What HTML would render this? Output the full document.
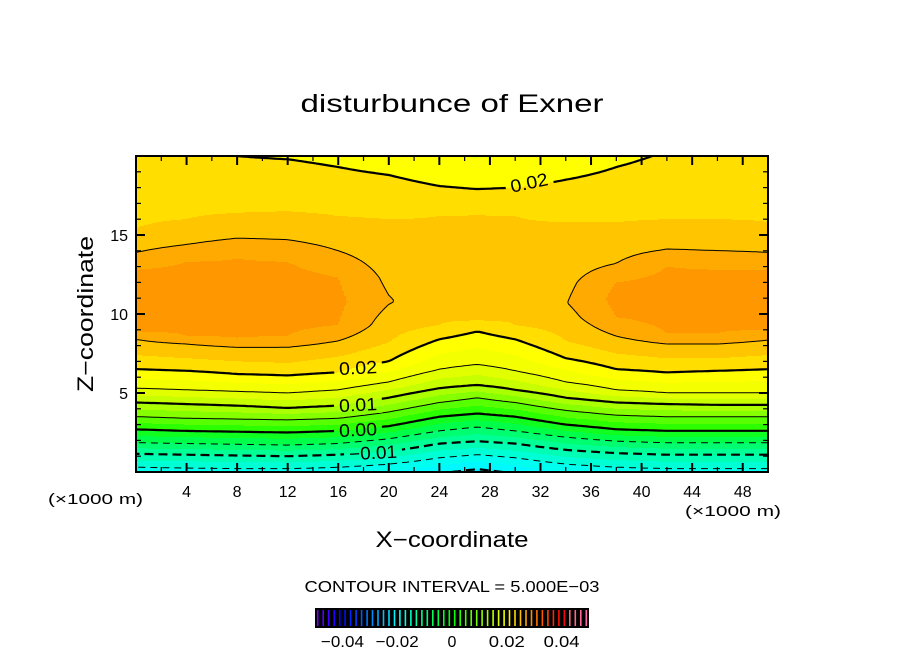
<!DOCTYPE html>
<html><head><meta charset="utf-8"><style>
html,body{margin:0;padding:0;background:#fff;}
svg{display:block;font-family:"Liberation Sans",sans-serif;}
</style></head><body>
<svg id="chart" width="904" height="654" viewBox="0 0 904 654" xmlns="http://www.w3.org/2000/svg">
<text x="452" y="112" text-anchor="middle" font-size="25" textLength="303" lengthAdjust="spacingAndGlyphs">disturbunce of Exner</text>
<g id="fills" shape-rendering="crispEdges"></g>
<defs><mask id="lblmask"><rect x="0" y="0" width="904" height="654" fill="#fff"/><g id="maskholes"></g></mask></defs>
<g id="lines" mask="url(#lblmask)" fill="none" stroke="#000"></g>
<g id="labels" font-size="18"></g>
<rect x="136" y="156" width="632" height="316" fill="none" stroke="#000" stroke-width="2"/>
<g id="ticks" stroke="#000"></g>
<g id="ticklabels" font-size="16"></g>
<text x="48" y="504" font-size="15" textLength="95" lengthAdjust="spacingAndGlyphs">(×1000 m)</text>
<text x="685" y="516" font-size="15" textLength="96" lengthAdjust="spacingAndGlyphs">(×1000 m)</text>
<text x="452" y="547" text-anchor="middle" font-size="22" textLength="153" lengthAdjust="spacingAndGlyphs">X−coordinate</text>
<text transform="translate(93,314) rotate(-90)" text-anchor="middle" font-size="22" textLength="156" lengthAdjust="spacingAndGlyphs">Z−coordinate</text>
<text x="452" y="592" text-anchor="middle" font-size="16" textLength="295" lengthAdjust="spacingAndGlyphs">CONTOUR INTERVAL = 5.000E−03</text>
<g id="colorbar"></g>
<g id="cblabels" font-size="16" text-anchor="middle"></g>
</svg>
<script>
// ---- data ----
const colX = [0,4,8,12,16,20,24,27,30,34,38,42,46,50];
const bottomVals = [-0.0168,-0.0168,-0.017,-0.017,-0.0168,-0.0175,-0.0195,-0.021,-0.0195,-0.0175,-0.017,-0.017,-0.017,-0.017];
const lowLevels = [-0.015,-0.01,-0.005,0,0.005,0.01,0.015,0.02];
const lowZ = [
 [0.3,0.25,0.2,0.2,0.3,0.5,0.9,1.1,0.9,0.5,0.3,0.2,0.2,0.2],
 [1.15,1.1,1.05,1.0,1.1,1.3,1.8,1.95,1.8,1.4,1.2,1.1,1.1,1.1],
 [1.85,1.8,1.75,1.7,1.8,2.1,2.6,2.85,2.6,2.2,1.95,1.85,1.85,1.85],
 [2.7,2.6,2.55,2.5,2.6,2.9,3.5,3.7,3.5,3.0,2.7,2.6,2.6,2.6],
 [3.5,3.4,3.35,3.3,3.4,3.8,4.4,4.7,4.4,3.9,3.6,3.5,3.5,3.5],
 [4.4,4.3,4.2,4.05,4.2,4.7,5.3,5.5,5.2,4.7,4.4,4.3,4.25,4.25],
 [5.3,5.2,5.1,5.0,5.2,5.7,6.5,6.8,6.4,5.7,5.2,5.0,5.0,5.0],
 [6.5,6.4,6.2,6.1,6.3,7.0,8.4,8.9,8.4,7.2,6.5,6.3,6.4,6.5]
];
const upperKnots = [
 [[7.4,.0225],[8.4,.025],[8.9,.0275],[11,.029],[12.8,.0275],[13.9,.025],[15.4,.0225],[19,.0205],[20,.0201]],
 [[7.2,.0225],[8.1,.025],[8.6,.0275],[11,.0295],[13.3,.0275],[14.4,.025],[16,.0225],[20,.0202]],
 [[7.0,.0225],[7.9,.025],[8.5,.0275],[11,.0295],[13.5,.0275],[14.8,.025],[16.4,.0225],[20,.02]],
 [[6.9,.0225],[7.9,.025],[8.6,.0275],[11,.0295],[13.3,.0275],[14.7,.025],[16.5,.0225],[19.8,.02],[20,.0198]],
 [[7.3,.0225],[8.3,.025],[9.3,.0275],[10.8,.028],[12.3,.0275],[14,.025],[16.2,.0225],[19.3,.02],[20,.0195]],
 [[8.2,.0225],[10.8,.0252],[16.0,.0225],[18.8,.02],[20,.0188]],
 [[9.3,.0225],[11.5,.0238],[16.2,.0225],[18.1,.02],[20,.018]],
 [[9.6,.0225],[12,.0235],[16.3,.0225],[17.9,.02],[20,.0172]],
 [[9.3,.0225],[11.5,.0238],[16.2,.0225],[18.0,.02],[20,.0176]],
 [[8.3,.0225],[10.7,.0249],[15.8,.0225],[18.5,.02],[20,.0185]],
 [[7.5,.0225],[8.6,.025],[9.8,.0275],[11,.0282],[12,.0275],[13.2,.025],[15.8,.0225],[19.3,.02],[20,.0195]],
 [[7.2,.0225],[8.1,.025],[8.8,.0275],[10.8,.0292],[13,.0275],[14.1,.025],[16,.0225],[20,.0202]],
 [[7.2,.0225],[8.1,.025],[8.8,.0275],[10.8,.0292],[12.8,.0275],[14,.025],[16,.0225],[20,.0205]],
 [[7.4,.0225],[8.35,.025],[9,.0275],[11,.029],[12.8,.0275],[13.9,.025],[15.8,.0225],[20,.021]]
];
const contourLevels = [-0.02,-0.015,-0.01,-0.005,0,0.005,0.01,0.015,0.02,0.025];
const xTicks = [4,8,12,16,20,24,28,32,36,40,44,48];
const zTicks = [5,10,15];
const cbTicks = [-0.04,-0.02,0,0.02,0.04];
const cbTickLabels = ["−0.04","−0.02","0","0.02","0.04"];
const contourLabelText = ["0.02","0.02","0.01","0.00","−0.01"];
const contourLabelPos = [[529,182,-12],[358,367,-3],[358,404,-3],[358,429,-3],[373,452,-3]];

// ---- scales ----
const X0=136,X1=768,Y0=156,Y1=472;
const sx=x=>X0+x/50*(X1-X0);
const sz=z=>Y1-z/20*(Y1-Y0);
const NS='http://www.w3.org/2000/svg';

const knots = colX.map((_,i)=>{
  const k=[[0,bottomVals[i]]];
  lowLevels.forEach((lv,j)=>k.push([lowZ[j][i],lv]));
  upperKnots[i].forEach(p=>k.push(p));
  k.sort((a,b)=>a[0]-b[0]);
  return k;
});
function colVal(i,z){
  const k=knots[i];
  if(z<=k[0][0]) return k[0][1];
  for(let j=1;j<k.length;j++){ if(z<=k[j][0]){const t=(z-k[j-1][0])/(k[j][0]-k[j-1][0]||1);return k[j-1][1]+t*(k[j][1]-k[j-1][1]);} }
  return k[k.length-1][1];
}
function field(x,z){
  let i=0; while(i<colX.length-2 && x>colX[i+1]) i++;
  const t=Math.max(0,Math.min(1,(x-colX[i])/(colX[i+1]-colX[i])));
  return colVal(i,z)*(1-t)+colVal(i+1,z)*t;
}
const bandColors = {
 '-9':'#00e8ff','-8':'#00f8ff','-7':'#00ffee','-6':'#00ffd4','-5':'#00ffb4','-4':'#00ff94','-3':'#00ff70','-2':'#00ff48',
 '-1':'#10ff20','0':'#2cff00','1':'#58ff00','2':'#86ff00','3':'#aaff00','4':'#c8ff00','5':'#e2ff00','6':'#f4ff00',
 '7':'#ffff00','8':'#ffde00','9':'#ffc600','10':'#ffaa00','11':'#ff9800','12':'#ff9000'
};
function bandColor(v){ let b=Math.floor(v/0.0025+1e-9); b=Math.max(-9,Math.min(12,b)); return bandColors[b]; }

// ---- fills ----
const fills=document.getElementById('fills');
let html='';
for(let px=X0;px<X1;px+=2){
  const x=(px+1-X0)/(X1-X0)*50;
  let runStart=Y0, runCol=null;
  for(let py=Y0;py<=Y1;py++){
    const z=(Y1-(py+0.5))/(Y1-Y0)*20;
    const c=py<Y1?bandColor(field(x,z)):null;
    if(c!==runCol){
      if(runCol) html+=`<rect x="${px}" y="${runStart}" width="2" height="${py-runStart}" fill="${runCol}"/>`;
      runCol=c; runStart=py;
    }
  }
}
fills.innerHTML=html;

// ---- contours (marching squares) ----
const NX=210, NZ=158;
const G=[];
for(let j=0;j<=NZ;j++){G.push([]);for(let i=0;i<=NX;i++){G[j].push(field(i/NX*50,j/NZ*20));}}
function ep(i0,j0,i1,j1,lv){
  if(i1<i0||(i1===i0&&j1<j0)){[i0,i1]=[i1,i0];[j0,j1]=[j1,j0];}
  const a=G[j0][i0],b=G[j1][i1];const t=(lv-a)/(b-a);
  const xi=i0+(i1-i0)*t, zj=j0+(j1-j0)*t;
  return [sx(xi/NX*50), sz(zj/NZ*20)];
}
function chain(segs){
  const key=p=>p[0].toFixed(2)+','+p[1].toFixed(2);
  const map=new Map();
  segs.forEach((s,i)=>{[0,1].forEach(e=>{const k=key(s[e]);if(!map.has(k))map.set(k,[]);map.get(k).push(i);});});
  const used=new Array(segs.length).fill(false);const out=[];
  for(let i=0;i<segs.length;i++){
    if(used[i])continue;used[i]=true;const pl=[segs[i][0],segs[i][1]];
    for(const dir of [1,0]){
      while(true){
        const end=dir?pl[pl.length-1]:pl[0];
        const cand=(map.get(key(end))||[]).find(s=>!used[s]);
        if(cand===undefined)break;used[cand]=true;
        const s=segs[cand];const nxt=key(s[0])===key(end)?s[1]:s[0];
        if(dir)pl.push(nxt);else pl.unshift(nxt);
      }
    }
    out.push(pl);
  }
  return out;
}
const linesG=document.getElementById('lines');
contourLevels.forEach(lv=>{
  const segs=[];
  for(let j=0;j<NZ;j++)for(let i=0;i<NX;i++){
    const c=(G[j][i]>lv?1:0)|(G[j][i+1]>lv?2:0)|(G[j+1][i+1]>lv?4:0)|(G[j+1][i]>lv?8:0);
    if(c===0||c===15)continue;
    const B=()=>ep(i,j,i+1,j,lv),R=()=>ep(i+1,j,i+1,j+1,lv),T=()=>ep(i,j+1,i+1,j+1,lv),L=()=>ep(i,j,i,j+1,lv);
    const tbl={1:[[L,B]],2:[[B,R]],3:[[L,R]],4:[[R,T]],5:[[L,B],[R,T]],6:[[B,T]],7:[[L,T]],8:[[L,T]],9:[[B,T]],10:[[B,R],[L,T]],11:[[R,T]],12:[[L,R]],13:[[B,R]],14:[[L,B]]};
    tbl[c].forEach(p=>segs.push([p[0](),p[1]()]));
  }
  const major=Math.abs(Math.round(lv*1000)%10)===0;
  chain(segs).forEach(pl=>{
    const p=document.createElementNS(NS,'path');
    p.setAttribute('d','M'+pl.map(q=>q[0].toFixed(1)+' '+q[1].toFixed(1)).join('L'));
    p.setAttribute('stroke-width',major?'2.2':'1');
    if(lv<0)p.setAttribute('stroke-dasharray',major?'9 5':'7 5');
    
    
    linesG.appendChild(p);
  });
});

// ---- contour labels ----
const holes=document.getElementById('maskholes'),labG=document.getElementById('labels');
contourLabelText.forEach((t,i)=>{
  const [x,y,r]=contourLabelPos[i];
  const w=t.length*10+8;
  const h=document.createElementNS(NS,'rect');
  h.setAttribute('x',x-w/2);h.setAttribute('y',y-10);h.setAttribute('width',w);h.setAttribute('height',20);
  h.setAttribute('fill','#000');h.setAttribute('transform',`rotate(${r} ${x} ${y})`);holes.appendChild(h);
  const tx=document.createElementNS(NS,'text');
  tx.setAttribute('x',x);tx.setAttribute('y',y+7);tx.setAttribute('text-anchor','middle');
  tx.setAttribute('textLength',t.length>4?48:38);tx.setAttribute('lengthAdjust','spacingAndGlyphs');
  tx.setAttribute('transform',`rotate(${r} ${x} ${y})`);tx.textContent=t;
  
  
  labG.appendChild(tx);
});

// ---- ticks ----
const tk=document.getElementById('ticks'),tl=document.getElementById('ticklabels');
let th='';
for(let x=2;x<50;x+=2){const M=x%4===0,L=M?9:5,X=sx(x);th+=`<line x1="${X}" y1="${Y1}" x2="${X}" y2="${Y1-L}" stroke-width="${M?2:1.2}"/><line x1="${X}" y1="${Y0}" x2="${X}" y2="${Y0+L}" stroke-width="${M?2:1.2}"/>`;}
for(let z=1;z<20;z++){const M=z%5===0,L=M?9:5,Y=sz(z);th+=`<line x1="${X0}" y1="${Y}" x2="${X0+L}" y2="${Y}" stroke-width="${M?2:1.2}"/><line x1="${X1}" y1="${Y}" x2="${X1-L}" y2="${Y}" stroke-width="${M?2:1.2}"/>`;}
tk.innerHTML=th;
xTicks.forEach(v=>{const t=document.createElementNS(NS,'text');t.setAttribute('x',sx(v));t.setAttribute('y',497);t.setAttribute('text-anchor','middle');t.textContent=v;
 
 
 tl.appendChild(t);});
zTicks.forEach(v=>{const t=document.createElementNS(NS,'text');t.setAttribute('x',128);t.setAttribute('y',sz(v)+6);t.setAttribute('text-anchor','end');t.textContent=v;
 
 
 tl.appendChild(t);});

// ---- colorbar ----
const cb=document.getElementById('colorbar');
const cbx=v=>452+v*1000*2.74;
let ch=`<rect x="315" y="608" width="274" height="20" fill="#000"/>`;
function cbColor(v){
  const t=(v+0.05)/0.1;
  let hue=270-300*t; if(hue<0)hue+=360;
  const light=t>0.92?70:50;
  return `hsl(${hue},100%,${light}%)`;
}
for(let v=-0.049;v<0.0505;v+=0.002){ch+=`<line x1="${cbx(v).toFixed(1)}" y1="610" x2="${cbx(v).toFixed(1)}" y2="626" stroke="${cbColor(v)}" stroke-width="1.6"/>`;}
cb.innerHTML=ch;
const cbl=document.getElementById('cblabels');
cbTicks.forEach((v,i)=>{const t=document.createElementNS(NS,'text');t.setAttribute('x',cbx(v));t.setAttribute('y',647);t.textContent=cbTickLabels[i];
 if(cbTickLabels[i].length>1){t.setAttribute('textLength',cbTickLabels[i].length>4?43:36);t.setAttribute('lengthAdjust','spacingAndGlyphs');}
 
 
 cbl.appendChild(t);});
</script>
</body></html>
